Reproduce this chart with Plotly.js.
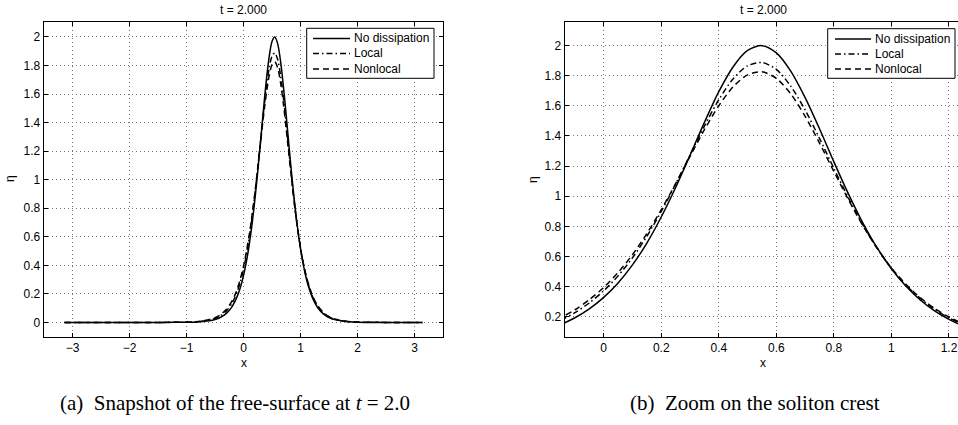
<!DOCTYPE html>
<html>
<head>
<meta charset="utf-8">
<script src="https://cdn.plot.ly/plotly-3.0.1.min.js"></script>
<style>
html,body{margin:0;padding:0;background:#fff;overflow:hidden;}
#chart{width:958px;height:425px;}
</style>
</head>
<body>
<div id="chart"></div>
<script>
// ---- data ----
const xVals = [-3.14,-2.5,-2,-1.5,-1.2,-1,-0.8,-0.6,-0.5,-0.4,-0.3,-0.2,
  -0.15,-0.1,-0.05,0,0.05,0.1,0.15,0.2,0.25,0.3,0.35,0.4,0.45,0.5,0.55,0.6,0.65,0.7,
  0.75,0.8,0.85,0.9,0.95,1,1.05,1.1,1.15,1.2,1.25,
  1.3,1.4,1.5,1.6,1.8,2,2.5,3.14];
const noDissipation = [0,0,0,0.0001,0.0004,0.0012,0.0037,0.0117,0.0206,0.0363,0.0638,0.111,
  0.147,0.193,0.252,0.328,0.424,0.544,0.689,0.862,1.058,1.272,1.490,1.694,1.860,1.968,2.000,1.952,1.831,1.655,
  1.448,1.228,1.017,0.825,0.658,0.518,0.403,0.311,0.239,0.182,0.139,
  0.105,0.060,0.034,0.0195,0.0062,0.002,0.0001,0];
const localDiss = [0,0,0,0.0001,0.0007,0.0019,0.0057,0.0165,0.0283,0.0478,0.081,0.136,
  0.176,0.227,0.291,0.372,0.471,0.591,0.734,0.899,1.081,1.274,1.466,1.641,1.780,1.866,1.888,1.842,1.731,1.573,
  1.384,1.185,0.991,0.812,0.655,0.521,0.410,0.321,0.249,0.192,0.148,
  0.113,0.066,0.039,0.022,0.0075,0.0025,0.0002,0];
const nonlocalDiss = [0,0,0,0.0002,0.0009,0.0025,0.0071,0.0198,0.0331,0.0552,0.0916,0.151,
  0.193,0.246,0.313,0.394,0.493,0.612,0.752,0.910,1.083,1.264,1.442,1.601,1.727,1.806,1.826,1.783,1.680,1.531,
  1.353,1.164,0.979,0.807,0.655,0.524,0.415,0.326,0.255,0.198,0.153,
  0.118,0.070,0.041,0.024,0.0082,0.0028,0.0002,0];
const seriesNames = ["No dissipation","Local","Nonlocal"];

const x1Ticks = [-3,-2,-1,0,1,2,3];
const x1TickText = ["\u22123","\u22122","\u22121","0","1","2","3"];
const y1Ticks = [0,0.2,0.4,0.6,0.8,1,1.2,1.4,1.6,1.8,2];
const y1TickText = ["0","0.2","0.4","0.6","0.8","1","1.2","1.4","1.6","1.8","2"];
const x2Ticks = [0,0.2,0.4,0.6,0.8,1,1.2];
const x2TickText = ["0","0.2","0.4","0.6","0.8","1","1.2"];
const y2Ticks = [0.2,0.4,0.6,0.8,1,1.2,1.4,1.6,1.8,2];
const y2TickText = ["0.2","0.4","0.6","0.8","1","1.2","1.4","1.6","1.8","2"];

const panelTitle = "t = 2.000";
const captionA = "(a)\u00a0 Snapshot of the free-surface at <i>t</i>\u00a0= 2.0";
const captionB = "(b)\u00a0 Zoom on the soliton crest";

// ---- layout helpers ----
const W = 958, H = 425;
const px = v => v / W;
const py = v => 1 - v / H;

const dashes = ["solid", "6px,3px,1.5px,3px", "6px,4px"];
const allY = [noDissipation, localDiss, nonlocalDiss];

const traces = [];
[["x","y"],["x2","y2"]].forEach(([xa,ya]) => {
  allY.forEach((ys, i) => {
    traces.push({
      x: xVals, y: ys, type: "scatter", mode: "lines",
      name: seriesNames[i], xaxis: xa, yaxis: ya, showlegend: false,
      line: {color: "#000", width: 1.5, dash: dashes[i], shape: "spline", smoothing: 0.8}
    });
  });
});

const sans = "Liberation Sans, Arial, sans-serif";
const serif = "Liberation Serif, Times New Roman, serif";
const axisCommon = {
  showline: true, linecolor: "#000", linewidth: 1.3,
  ticks: "inside", ticklen: 4, tickcolor: "#000", tickwidth: 1,
  showgrid: true, gridcolor: "#777", gridwidth: 1, griddash: "1px,3px",
  zeroline: false, tickfont: {family: sans, size: 12, color: "#000"},
  tickmode: "array"
};

// manual legends (box + sample lines + labels), positioned in paper coords
const shapes = [];
const annotations = [];
function addLegend(box, lineX0, lineX1, textX, rowsY) {
  shapes.push({type: "rect", xref: "paper", yref: "paper",
    x0: px(box[0]), x1: px(box[1]), y0: py(box[3]), y1: py(box[2]),
    line: {color: "#000", width: 1}, fillcolor: "#fff", layer: "above"});
  seriesNames.forEach((nm, i) => {
    shapes.push({type: "line", xref: "paper", yref: "paper",
      x0: px(lineX0), x1: px(lineX1), y0: py(rowsY[i]), y1: py(rowsY[i]),
      line: {color: "#000", width: 1.5, dash: dashes[i]}, layer: "above"});
    annotations.push({text: nm, x: px(textX), y: py(rowsY[i]), xref: "paper", yref: "paper",
      showarrow: false, xanchor: "left", yanchor: "middle",
      font: {family: sans, size: 12, color: "#000"}});
  });
}
addLegend([306.7, 434, 28.3, 78.3], 313, 350, 352, [38.5, 53.5, 69]);
addLegend([827.7, 955, 28.7, 78.3], 835, 871, 873, [39, 54, 69]);

function note(text, x, y, size, family, angle) {
  annotations.push({text: text, x: px(x), y: py(y), xref: "paper", yref: "paper",
    showarrow: false, xanchor: "center", yanchor: "middle", textangle: angle || 0,
    font: {family: family, size: size, color: "#000"}});
}
note(panelTitle, 243.5, 10, 12, sans);
note(panelTitle, 763, 10, 12, sans);
note("x", 243.7, 362.7, 12, sans);
note("x", 763.3, 362.7, 12, sans);
note("\u03b7", 10, 179, 12, sans, -90);
note("\u03b7", 533, 180, 12, sans, -90);
note(captionA, 234.5, 402.5, 21, serif);
note(captionB, 755, 402.5, 21, serif);

const layout = {
  width: W, height: H,
  margin: {l: 0, r: 0, t: 0, b: 0},
  paper_bgcolor: "#fff", plot_bgcolor: "#fff",
  showlegend: false,
  xaxis: Object.assign({}, axisCommon, {domain: [px(44), px(443)], range: [-3.5, 3.5],
    tickvals: x1Ticks, ticktext: x1TickText, mirror: "ticks", anchor: "y"}),
  yaxis: Object.assign({}, axisCommon, {domain: [py(336.7), py(22)], range: [-0.1, 2.105],
    tickvals: y1Ticks, ticktext: y1TickText, mirror: "ticks", anchor: "x"}),
  xaxis2: Object.assign({}, axisCommon, {domain: [px(565), 1], range: [-0.1345, 1.2313],
    tickvals: x2Ticks, ticktext: x2TickText, mirror: "ticks", anchor: "y2"}),
  yaxis2: Object.assign({}, axisCommon, {domain: [py(336.7), py(22.3)], range: [0.067, 2.155],
    tickvals: y2Ticks, ticktext: y2TickText, mirror: false, anchor: "x2"}),
  shapes: shapes,
  annotations: annotations
};

Plotly.newPlot("chart", traces, layout, {displayModeBar: false, staticPlot: true});
</script>
</body>
</html>
